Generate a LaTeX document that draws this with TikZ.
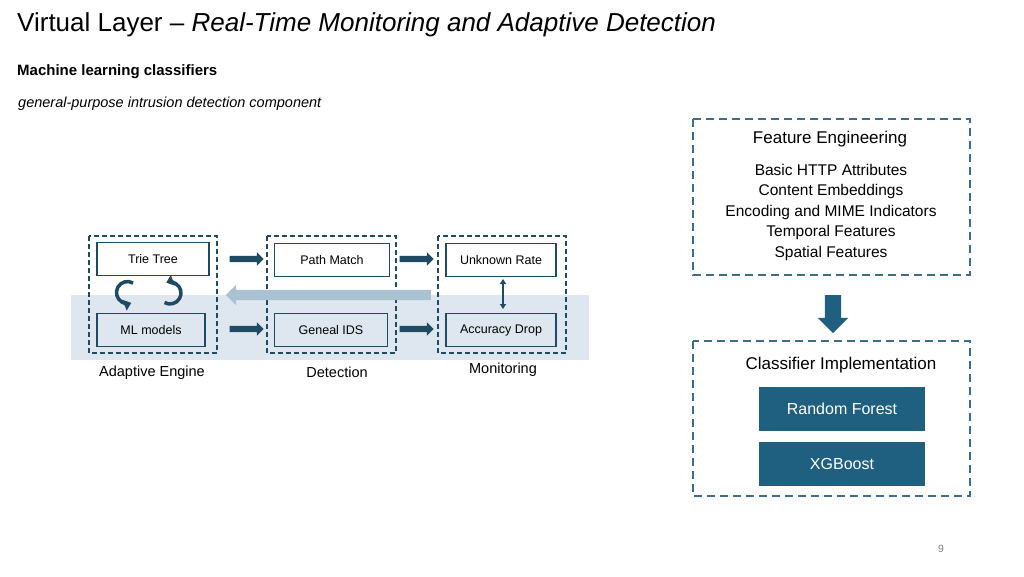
\documentclass[tikz,border=0pt]{standalone}
\usepackage{fontspec}
\setmainfont{Liberation Sans}
\usetikzlibrary{shapes.arrows,arrows.meta}
\definecolor{navy}{HTML}{1E4A63}
\definecolor{steel}{HTML}{3C6E8C}
\definecolor{teal}{HTML}{1F5F7F}
\definecolor{band}{HTML}{DEE7EF}
\definecolor{pale}{HTML}{A9C1D1}
\begin{document}
\begin{tikzpicture}[x=1pt,y=-1pt]
\tikzstyle{box} = [draw=navy, line width=1.3pt, minimum height=33pt, font=\fontsize{12.5}{14}\selectfont]
\tikzstyle{group} = [draw=navy, line width=1.2pt, dash pattern=on 5pt off 3pt]
\tikzstyle{fat} = [single arrow, fill=navy, draw=none, minimum height=34pt, minimum width=13pt, single arrow head extend=3.5pt, inner sep=3pt]
\tikzstyle{model} = [fill=teal, text=white, minimum width=166pt, minimum height=44pt, font=\fontsize{16}{18}\selectfont]
\tikzstyle{frame} = [draw=steel, line width=1.3pt, dash pattern=on 8pt off 5pt]
\tikzstyle{loopy} = [navy, line width=3.5pt, -{Triangle[length=7pt,width=11pt]}]
\useasboundingbox (0,0) rectangle (1024,576);
% titles
\node[anchor=west, inner sep=0pt] (title) at (17,25) {\fontsize{26}{30}\selectfont Virtual Layer -- \textit{Real-Time Monitoring and Adaptive Detection}};
\node[anchor=west, inner sep=0pt] (sub) at (17,72) {\fontsize{15}{18}\selectfont\bfseries Machine learning classifiers};
\node[anchor=west, inner sep=0pt] (note) at (18,104) {\fontsize{14.5}{17}\selectfont\itshape general-purpose intrusion detection component};
\node[text=gray] (page) at (941,549) {\fontsize{10.5}{12}\selectfont 9};
% band
\fill[band] (71,295) rectangle (589,360);
% groups
\draw[group] (89,236) rectangle (217,353);
\draw[group] (267,236) rectangle (396,353);
\draw[group] (438,236) rectangle (566,353);
% boxes
\node[box, fill=white, minimum width=112pt] (trie) at (153,259) {Trie Tree};
\node[box, fill=white, minimum width=115pt] (path) at (332,260) {Path Match};
\node[box, fill=white, minimum width=110pt] (unknown) at (501,260) {Unknown Rate};
\node[box, minimum width=108pt] (ml) at (151,330) {ML models};
\node[box, minimum width=113pt] (ids) at (331,330) {Geneal IDS};
\node[box, minimum width=110pt] (acc) at (501,330) {Accuracy Drop};
% labels
\node (adaptive) at (152,373) {\fontsize{14.5}{17}\selectfont Adaptive Engine};
\node (detection) at (337,372) {\fontsize{14.5}{17}\selectfont Detection};
\node (monitoring) at (503,370) {\fontsize{14.5}{17}\selectfont Monitoring};
% arrows
\node[fat] (a1) at (245,259) {};
\node[fat] (a2) at (415,259) {};
\node[fat] (a3) at (245,329) {};
\node[fat] (a4) at (415,329) {};
\node[single arrow, fill=pale, draw=none, shape border rotate=180, minimum height=205pt, minimum width=20pt, single arrow head extend=5pt, inner sep=5pt] (back) at (331,295) {};
\draw[navy, line width=1.8pt, {Triangle[length=5pt,width=6pt]}-{Triangle[length=5pt,width=6pt]}] (503,279) -- (503,309);
\draw[loopy] (133,283) arc[start angle=-60, end angle=-290, radius=11];
\draw[loopy] (164.5,302.5) arc[start angle=-240, end angle=-470, radius=11];
% right side
\draw[frame] (693,119) rectangle (970,275);
\node (feat) at (830,139) {\fontsize{17}{20}\selectfont Feature Engineering};
\node[align=center, font=\fontsize{15.5}{20.5}\selectfont] (featlist) at (831,212) {Basic HTTP Attributes\\Content Embeddings\\Encoding and MIME Indicators\\Temporal Features\\Spatial Features};
\node[single arrow, fill=teal, draw=none, shape border rotate=270, minimum height=38pt, minimum width=30pt, single arrow head extend=7pt, inner sep=8pt] (down) at (833,310) {};
\draw[frame] (693,341) rectangle (970,496);
\node (clf) at (841,365) {\fontsize{17}{20}\selectfont Classifier Implementation};
\node[model] (rf) at (842,409) {Random Forest};
\node[model] (xgb) at (842,464) {XGBoost};
\end{tikzpicture}
\end{document}
